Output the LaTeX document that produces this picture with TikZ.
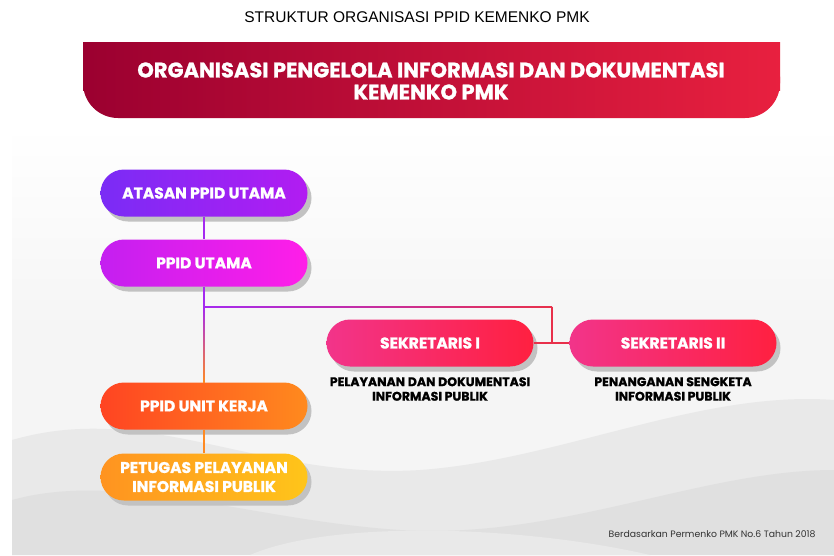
\documentclass[tikz,border=0pt]{standalone}
\usepackage{fontspec}
\setmainfont{Poppins}[BoldFeatures={FakeBold=1.2}]
\newfontfamily\arialfont{Liberation Sans}
\usetikzlibrary{shadows,calc}
\definecolor{bannerL}{HTML}{9B0030}
\definecolor{bannerR}{HTML}{E8203F}
\definecolor{atasanL}{HTML}{7A2CF5}
\definecolor{atasanR}{HTML}{B21CF2}
\definecolor{utamaL}{HTML}{C41FF0}
\definecolor{utamaR}{HTML}{FF1EE8}
\definecolor{sekL}{HTML}{F2348A}
\definecolor{sekR}{HTML}{FF2040}
\definecolor{unitL}{HTML}{FF4422}
\definecolor{unitR}{HTML}{FF8A1E}
\definecolor{petugasL}{HTML}{FF9320}
\definecolor{petugasR}{HTML}{FFC51A}
\definecolor{lineP}{HTML}{A52AF0}
\definecolor{lineR}{HTML}{E8304A}
\definecolor{lineO}{HTML}{FF8A22}
\definecolor{bgA}{HTML}{F5F5F5}
\definecolor{bgB}{HTML}{E0E0E0}
\definecolor{bgC}{HTML}{E9E9E9}
\tikzset{
  pill/.style={rectangle, rounded corners=23.5pt, minimum width=207pt,
    minimum height=47pt, text=white, align=center,
    font=\bfseries\fontsize{15.5}{19}\selectfont,
    drop shadow={shadow xshift=4pt, shadow yshift=-5pt, fill=black!24, opacity=1}},
  note/.style={align=center, font=\bfseries\fontsize{12.5}{14.5}\selectfont},
  link/.style={line width=1.8pt}
}
\begin{document}
\begin{tikzpicture}[x=1pt,y=-1pt]
% background
\fill[white] (0,0) rectangle (834,555);
\shade[top color=white, bottom color=bgA] (12,125) rectangle (834,330);
\fill[bgA] (12,330) rectangle (834,555);
\fill[bgC] (12,555) -- (12,440) .. controls (150,400) and (260,480) .. (420,470)
  .. controls (560,460) and (700,390) .. (834,400) -- (834,555) -- cycle;
\fill[bgB] (12,555) -- (12,500) .. controls (120,470) and (250,520) .. (400,530)
  .. controls (560,540) and (700,470) .. (834,470) -- (834,555) -- cycle;
\fill[bgC] (250,555) .. controls (330,520) and (520,525) .. (650,555) -- cycle;

% title and banner
\node[font=\arialfont\fontsize{15.5}{18}\selectfont] (title) at (417,17) {STRUKTUR ORGANISASI PPID KEMENKO PMK};
\shade[left color=bannerL, right color=bannerR, rounded corners=35pt] (83,42) rectangle (780,118);
\shade[left color=bannerL, right color=bannerR] (83,42) rectangle (780,90);
\node[text=white, align=center, font=\bfseries\fontsize{21}{22}\selectfont] (head) at (431,81)
  {ORGANISASI PENGELOLA INFORMASI DAN DOKUMENTASI\\KEMENKO PMK};

% boxes
\node[pill, left color=atasanL, right color=atasanR] (atasan) at (204,193) {ATASAN PPID UTAMA};
\node[pill, left color=utamaL, right color=utamaR] (utama) at (204,263) {PPID UTAMA};
\node[pill, left color=sekL, right color=sekR] (sek1) at (430,343) {SEKRETARIS I};
\node[pill, left color=sekL, right color=sekR] (sek2) at (673,343) {SEKRETARIS II};
\node[pill, left color=unitL, right color=unitR] (unit) at (204,406) {PPID UNIT KERJA};
\node[pill, left color=petugasL, right color=petugasR] (petugas) at (204,477) {PETUGAS PELAYANAN\\INFORMASI PUBLIK};

\node[note] (tugas1) at (430,389) {PELAYANAN DAN DOKUMENTASI\\INFORMASI PUBLIK};
\node[note] (tugas2) at (673,389) {PENANGANAN SENGKETA\\INFORMASI PUBLIK};

\node[anchor=east, text=black!80, font=\fontsize{9.3}{11}\selectfont] (dasar) at (819,534)
  {Berdasarkan Permenko PMK No.6 Tahun 2018};

% connectors
\coordinate (jl) at (utama.south |- 0,307);
\coordinate (jr) at (552,307);
\coordinate (jm) at (jr |- sek1.east);
\begin{scope}[on background layer/.try]
\draw[link, lineP] (atasan) -- (utama);
\draw[link, lineP] (utama) -- (jl);
\shade[top color=lineP, bottom color=lineO] ($(jl)+(-0.9,0)$) rectangle ($(unit.north)+(0.9,0)$);
\shade[left color=lineP, right color=lineR] ($(jl)+(0,-0.9)$) rectangle ($(jr)+(0,0.9)$);
\draw[link, lineR] (jr) -- (jm);
\draw[link, lineR] (sek1) -- (sek2);
\draw[link, lineO] (unit) -- (petugas);
\end{scope}
\end{tikzpicture}
\end{document}
